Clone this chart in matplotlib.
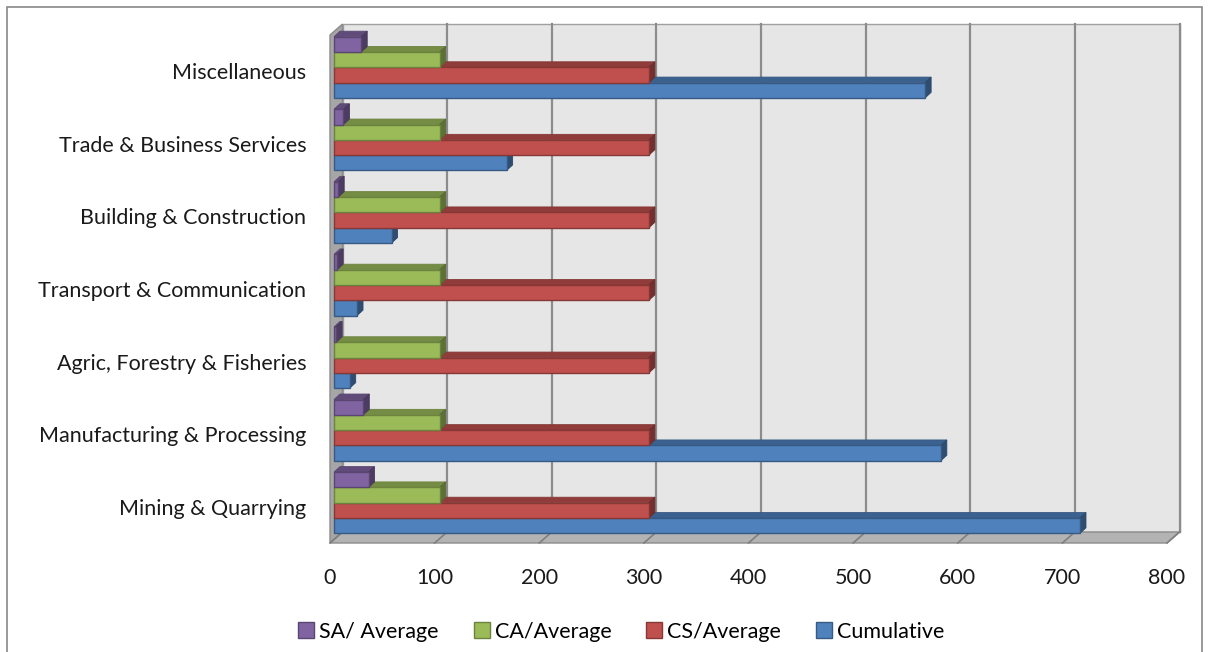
import numpy as np
import matplotlib
matplotlib.use('Agg')
import matplotlib.pyplot as plt
from matplotlib.patches import Polygon, Rectangle
from matplotlib.lines import Line2D

# data
categories = ['Mining & Quarrying', 'Manufacturing & Processing',
              'Agric, Forestry & Fisheries', 'Transport & Communication',
              'Building & Construction', 'Trade & Business Services',
              'Miscellaneous']
cumulative = [713, 580, 15, 22, 55, 165, 565]
cs_average = [301, 301, 301, 301, 301, 301, 301]
ca_average = [101, 101, 101, 101, 101, 101, 101]
sa_average = [33, 28, 2, 3, 4, 9, 26]
series_names = ['Cumulative', 'CS/Average', 'CA/Average', 'SA/ Average']
colors = ['#4F81BD', '#C0504D', '#9BBB59', '#8064A2']
x_ticks = [0, 100, 200, 300, 400, 500, 600, 700, 800]

FONT = ['Lato', 'DejaVu Sans']
W, H, DPI = 1208, 652, 100


def shade(c, f):
    r, g, b = matplotlib.colors.to_rgb(c)
    return (r * f, g * f, b * f)


def main():
    plt.rcParams['font.family'] = FONT
    fig = plt.figure(figsize=(W / DPI, H / DPI), dpi=DPI)
    # front plane of the 3d box, in pixels
    left, right, top, bottom = 330, 1167, 35, 543
    ax = fig.add_axes([left / W, 1 - bottom / H, (right - left) / W,
                       (bottom - top) / H])
    ax.set_xlim(0, 800)
    ax.set_ylim(-0.5, len(categories) - 0.5)
    ax.patch.set_visible(False)
    for s in ax.spines.values():
        s.set_visible(False)

    px_x = (right - left) / 800.0
    px_y = (bottom - top) / len(categories)

    def d(dx_px, dy_px):
        return dx_px / px_x, dy_px / px_y

    y0, y1 = -0.5, len(categories) - 0.5
    wx, wy = d(12.5, 11)

    # back wall
    ax.add_patch(Polygon([(wx, y0 + wy), (800 + wx, y0 + wy),
                          (800 + wx, y1 + wy), (wx, y1 + wy)],
                         closed=True, fc='#e6e6e6', ec='#a0a0a0', lw=1,
                         zorder=0, clip_on=False))
    # left wall
    ax.add_patch(Polygon([(0, y0), (wx, y0 + wy), (wx, y1 + wy), (0, y1)],
                         closed=True, fc='#a6a6a6', ec='#8c8c8c', lw=1,
                         zorder=1, clip_on=False))
    # floor
    ax.add_patch(Polygon([(0, y0), (800, y0), (800 + wx, y0 + wy),
                          (wx, y0 + wy)],
                         closed=True, fc='#b3b3b3', ec='#8c8c8c', lw=1,
                         zorder=1, clip_on=False))
    # grid lines on back wall and slanted ticks on floor
    for t in x_ticks[1:]:
        ax.plot([t + wx, t + wx], [y0 + wy, y1 + wy], color='#8c8c8c',
                lw=1.6, zorder=0.5, clip_on=False)
    for t in x_ticks:
        ax.plot([t, t + wx], [y0, y0 + wy], color='#7f7f7f', lw=1.2,
                zorder=1.5, clip_on=False)

    # bars
    ox, oy = d(4, 4)
    dx, dy = d(6, 5.5)
    h = 15.3 / px_y
    series = [cumulative, cs_average, ca_average, sa_average]
    for i in range(len(categories)):
        for j, vals in enumerate(series):
            v = vals[i]
            yc = i + (j - 1.5) * h
            b = yc - h / 2 + oy
            tp = yc + h / 2 + oy
            x0 = ox
            x1 = ox + v
            z = 2 + i * 4 + j
            c = colors[j]
            ax.add_patch(Polygon([(x0, tp), (x1, tp), (x1 + dx, tp + dy),
                                  (x0 + dx, tp + dy)], closed=True,
                                 fc=shade(c, 0.75), ec=shade(c, 0.7),
                                 lw=0.6, zorder=z, clip_on=False))
            ax.add_patch(Polygon([(x1, b), (x1, tp), (x1 + dx, tp + dy),
                                  (x1 + dx, b + dy)], closed=True,
                                 fc=shade(c, 0.6), ec=shade(c, 0.55),
                                 lw=0.6, zorder=z, clip_on=False))
            ax.add_patch(Rectangle((x0, b), v, h, fc=c, ec=shade(c, 0.7),
                                   lw=1.0, zorder=z + 0.1, clip_on=False))

    ax.set_yticks(range(len(categories)))
    ax.set_yticklabels(categories, fontsize=15.5, color='#1a1a1a')
    ax.set_xticks(x_ticks)
    ax.set_xticklabels([str(t) for t in x_ticks], fontsize=15.5,
                       color='#1a1a1a')
    ax.tick_params(axis='y', length=0, pad=17)
    ax.tick_params(axis='x', length=0, pad=18)

    handles = [Line2D([], [], marker='s', ls='', markersize=11,
                      markerfacecolor=colors[j],
                      markeredgecolor=shade(colors[j], 0.7))
               for j in [3, 2, 1, 0]]
    labels = [series_names[j] for j in [3, 2, 1, 0]]
    fig.legend(handles, labels, loc='center', ncol=4, frameon=False,
               bbox_to_anchor=(620 / W, 1 - 632 / H), fontsize=15.5,
               handletextpad=0.1, columnspacing=1.5, handlelength=1.0)

    # chart border (bottom edge falls outside the picture)
    fig.add_artist(Rectangle((6.5 / W, -5 / H), (W - 13) / W,
                             (H - 1.5) / H, transform=fig.transFigure,
                             fill=False, ec='#888888', lw=1.2))

    fig.savefig('out.png', dpi=DPI)


if __name__ == '__main__':
    main()
